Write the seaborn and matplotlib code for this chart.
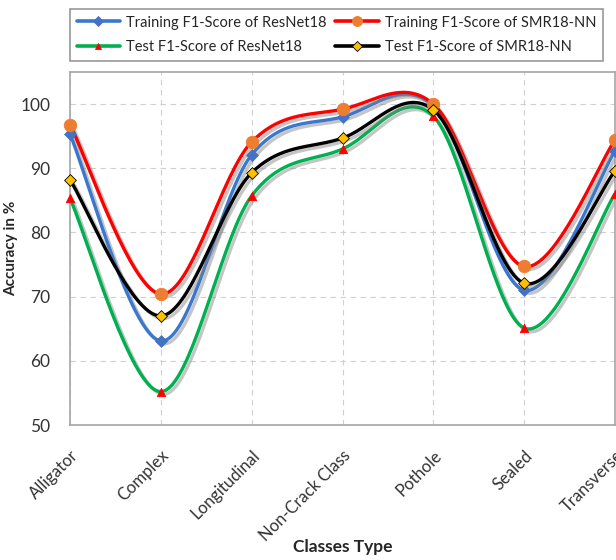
import matplotlib
matplotlib.use("Agg")
import matplotlib.pyplot as plt
import matplotlib.patheffects as pe
import numpy as np
import seaborn as sns

classes = ["Alligator", "Complex", "Longitudinal", "Non-Crack Class",
           "Pothole", "Sealed", "Transverse"]
train_resnet = [95.3, 63.1, 92.1, 98.0, 99.7, 71.0, 92.7]
train_smr = [96.8, 70.4, 94.1, 99.2, 100.0, 74.7, 94.4]
test_resnet = [85.3, 55.2, 85.7, 93.0, 98.1, 65.1, 86.0]
test_smr = [88.2, 67.0, 89.3, 94.7, 99.1, 72.1, 89.6]


def smooth(xs, ys, n=40):
    """Excel-style smoothed line (Bezier through points, tension 1/6)."""
    p = np.column_stack([xs, ys]).astype(float)
    p = np.vstack([p[0], p, p[-1]])
    t = np.linspace(0, 1, n)[:, None]
    out = []
    for i in range(1, len(p) - 2):
        p0, p1, p2, p3 = p[i - 1], p[i], p[i + 1], p[i + 2]
        c1 = p1 + (p2 - p0) / 6
        c2 = p2 - (p3 - p1) / 6
        seg = ((1 - t) ** 3) * p1 + 3 * ((1 - t) ** 2) * t * c1 \
            + 3 * (1 - t) * t ** 2 * c2 + t ** 3 * p2
        out.append(seg)
    seg = np.vstack(out)
    return seg[:, 0], seg[:, 1]


sns.set_style("white")
plt.rcParams["font.family"] = ["Lato", "DejaVu Sans"]

fig = plt.figure(figsize=(6.16, 5.6), dpi=100)
ax = fig.add_axes([70 / 616, 1 - 425 / 560, 545 / 616, 353 / 560])

x = np.arange(len(classes))
series = [
    ("Training F1-Score of ResNet18", train_resnet, "#3A78D0", "D", "#4472C4", "#4472C4", 6),
    ("Training F1-Score of SMR18-NN", train_smr, "#FF0000", "o", "#ED7D31", "#ED7D31", 9),
    ("Test F1-Score of ResNet18", test_resnet, "#00B050", "^", "#FF0000", "#FF0000", 6),
    ("Test F1-Score of SMR18-NN", test_smr, "#000000", "D", "#FFC000", "#000000", 6),
]
shadow = [pe.SimpleLineShadow(offset=(2, -2), shadow_color="gray", alpha=0.45),
          pe.Normal()]
order_z = {0: 3, 1: 4, 2: 2, 3: 5}
handles = []
for k, (label, vals, lc, mk, mfc, mec, ms) in enumerate(series):
    sx, sy = smooth(x, vals)
    sns.lineplot(x=sx, y=sy, ax=ax, color=lc, linewidth=2.4, sort=False,
                 zorder=order_z[k], path_effects=shadow)
    ax.scatter(x, vals, marker=mk, s=ms ** 2, color=mfc, edgecolors=mec,
               linewidths=0.6, zorder=10 + k, clip_on=False)
    h, = ax.plot([], [], color=lc, linewidth=2.6, marker=mk, markersize=ms * 0.8,
                 markerfacecolor=mfc, markeredgecolor=mec, markeredgewidth=0.6)
    handles.append(h)

ax.set_xlim(0, 6)
ax.set_ylim(50, 105)
ax.set_yticks([50, 60, 70, 80, 90, 100])
ax.set_xticks(x)
ax.set_xticklabels(classes, rotation=45, ha="right", rotation_mode="anchor")
ax.set_xticks(np.arange(0.5, 6, 0.5), minor=True)
ax.tick_params(axis="x", which="minor", direction="in", length=4, color="#A6A6A6", width=0.8)
ax.tick_params(axis="x", which="major", length=0, pad=16, labelsize=12, labelcolor="#333333")
ax.tick_params(axis="y", length=0, pad=14, labelsize=12.5, labelcolor="#333333")
ax.grid(True, linestyle=(0, (5, 4)), color="#D0D0D0", linewidth=0.8)
for s in ax.spines.values():
    s.set_color("#A6A6A6")
    s.set_linewidth(1.2)

ax.set_ylabel("Accuracy in %", fontsize=11, fontweight="bold", labelpad=4)
ax.set_xlabel("Classes Type", fontsize=12.5, fontweight="bold")
ax.xaxis.set_label_coords(0.5, -0.322)
ax.yaxis.set_label_coords(-0.095, 0.5)

order = [0, 2, 1, 3]
leg = fig.legend(handles=[handles[i] for i in order],
                 labels=[series[i][0] for i in order], ncol=2,
                 loc="lower left", mode="expand",
                 bbox_to_anchor=(70 / 616, 1 - 61 / 560, 533 / 616, 55 / 560),
                 frameon=True, fancybox=False, fontsize=10.5,
                 handlelength=3.0, handletextpad=0.4, borderpad=0.45,
                 labelspacing=0.75, edgecolor="#7F7F7F", borderaxespad=0)
leg.get_frame().set_linewidth(1.2)

fig.savefig("out.png", dpi=100)
